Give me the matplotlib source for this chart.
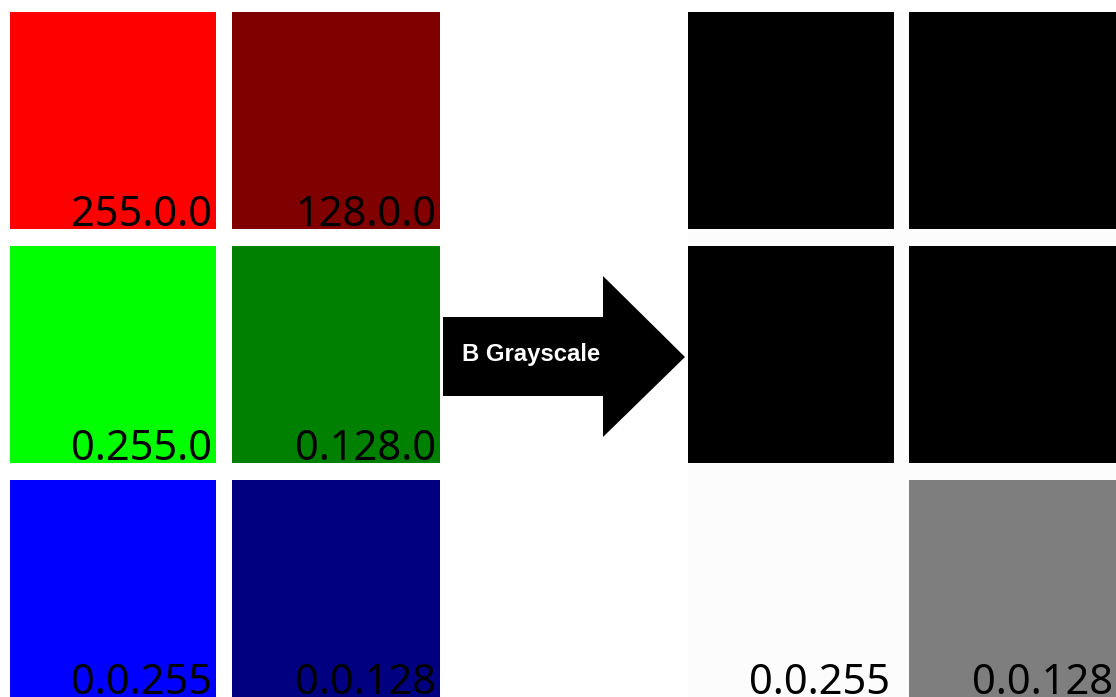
import matplotlib
matplotlib.use("Agg")
import matplotlib.pyplot as plt
from matplotlib.patches import Rectangle, Polygon

# ---- data ----
labels = ["255.0.0", "128.0.0", "0.255.0", "0.128.0", "0.0.255", "0.0.128"]
red = [255, 128, 0, 0, 0, 0]
green = [0, 0, 255, 128, 0, 0]
blue = [0, 0, 0, 0, 255, 128]
arrow_label = "B Grayscale"
# grayscale shown on the right = B channel
gray_values = blue
right_labels = ["", "", "", "", "0.0.255", "0.0.128"]

# ---- layout ----
W, H = 1116, 697
fig = plt.figure(figsize=(W / 100, H / 100), dpi=100)
ax = fig.add_axes([0, 0, 1, 1])
ax.set_xlim(0, W)
ax.set_ylim(H, 0)
ax.axis("off")

left_cols = [10, 232]
right_cols = [688, 909]
col_w = [206, 208]
rows = [12, 246, 480]
row_h = [217, 217, 217]
right_bg = "#fcfcfc"
label_font = ["Noto Sans", "DejaVu Sans"]
label_size = 30

# right panel background
ax.add_patch(Rectangle((688, 12), W - 688, H - 12, facecolor=right_bg,
                       edgecolor="none", zorder=0))


def draw_cell(x0, y0, w, h, color, text):
    rect = Rectangle((x0, y0), w, h, facecolor=color, edgecolor="none", zorder=1)
    ax.add_patch(rect)
    if text:
        t = ax.text(x0 + w - 4, y0 + h - 3, text, ha="right", va="baseline",
                    fontsize=label_size, family=label_font, color="black", zorder=2)
        t.set_clip_path(rect)


for i, lab in enumerate(labels):
    r, c = divmod(i, 2)
    col = (red[i] / 255, green[i] / 255, blue[i] / 255)
    draw_cell(left_cols[c], rows[r], col_w[c], row_h[r], col, lab)
    g = gray_values[i] / 255 * 0.988
    draw_cell(right_cols[c], rows[r], col_w[c], row_h[r], (g, g, g), right_labels[i])

# arrow
sx0, sx1, sy0, sy1 = 443, 603, 317, 396
hy0, hy1, tipx, tipy = 276, 437, 685, 357
arrow_pts = [(sx0, sy0), (sx1, sy0), (sx1, hy0), (tipx, tipy), (sx1, hy1),
             (sx1, sy1), (sx0, sy1)]
ax.add_patch(Polygon(arrow_pts, closed=True, facecolor="black", edgecolor="none", zorder=3))
ax.text(462, 354, arrow_label, ha="left", va="center", color="white",
        fontsize=17.2, fontweight="bold", family=["Liberation Sans", "DejaVu Sans"], zorder=4)

fig.savefig("out.png", dpi=100, facecolor="white")
